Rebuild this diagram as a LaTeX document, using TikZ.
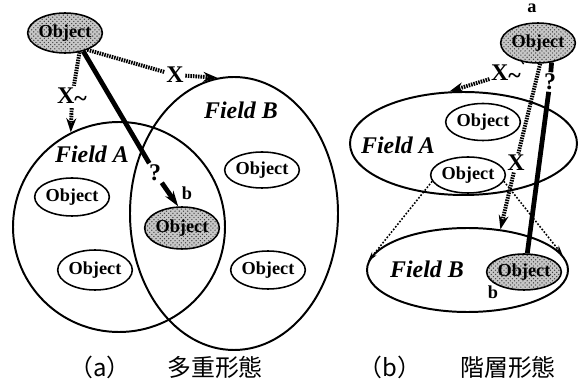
\documentclass[tikz,border=0pt]{standalone}
\usepackage{fontspec}
\setmainfont{Liberation Serif}
\newfontfamily\jpfont{Noto Sans CJK JP}
\usetikzlibrary{arrows.meta,shapes.geometric,patterns}

\begin{document}
\begin{tikzpicture}[
  obj/.style={ellipse, draw, fill=white, line width=1.1pt, minimum width=1.6cm, minimum height=1cm, inner sep=0pt, font=\fontsize{13}{13}\selectfont\bfseries},
  sel/.style={obj, preaction={fill=black!22}, pattern=crosshatch dots, pattern color=black!75},
  fld/.style={ellipse, draw, line width=1.4pt, inner sep=0pt},
  fname/.style={font=\fontsize{17}{17}\selectfont\bfseries\itshape},
  rel/.style={inner sep=1pt, font=\fontsize{17}{17}\selectfont\bfseries},
  lbl/.style={inner sep=1pt, font=\fontsize{13}{13}\selectfont\bfseries},
  hatch/.style={line width=2.8pt, dash pattern=on 1.1pt off 0.7pt, -{Stealth[length=10pt,width=7pt]}},
  fan/.style={line width=1.1pt, dash pattern=on 1.2pt off 1.2pt, -{Stealth[length=7pt,width=4pt]}},
  heavy/.style={line width=3.4pt},
  capt/.style={font=\jpfont\fontsize{17}{17}\selectfont}]
  \useasboundingbox (0,0) rectangle (14.45,9.55);

  % (a)
  \node [fld, minimum width=5.3cm, minimum height=5.25cm] (fa1) at (2.975cm, 3.875cm) {};
  \node [fld, minimum width=5.2cm, minimum height=6.825cm] (fb1) at (5.85cm, 4.2125cm) {};
  \node [sel] (a1) at (1.625cm, 8.725cm) {Object};
  \node [obj, minimum width=1.55cm, minimum height=0.95cm] (o1) at (1.8cm, 4.625cm) {Object};
  \node [obj] (o2) at (2.375cm, 2.8cm) {Object};
  \node [sel, minimum height=1.05cm] (b1) at (4.55cm, 3.85cm) {Object};
  \node [obj, minimum width=1.55cm, minimum height=0.9cm] (o3) at (6.55cm, 5.3cm) {Object};
  \node [obj, minimum width=1.55cm, minimum height=0.95cm] (o4) at (6.7cm, 2.8cm) {Object};
  \node [fname] (na1) at (2.3cm, 5.7cm) {Field A};
  \node [fname] (nb1) at (6.025cm, 6.8cm) {Field B};
  \node [rel] (x1) at (4.375cm, 7.675cm) {X};
  \node [rel] (t1) at (1.8cm, 7.125cm) {X\raisebox{-0.3ex}{\textasciitilde}};
  \node [rel] (q1) at (3.875cm, 5.225cm) {?};
  \node [lbl] (bl1) at (4.675cm, 4.725cm) {b};
  \draw [hatch] (a1.-37) -- (x1) -- (fb1.97.5);
  \draw [hatch] (a1.-53) -- (t1) -- (fa1.117.5);
  \draw [heavy, -{Stealth[length=11pt,width=7pt]}] (a1.-45) -- (q1) -- (b1.100);
  \node [capt] (ca) at (2.5cm, 0.375cm) {（a）};
  \node [capt] (cb) at (5.375cm, 0.375cm) {多重形態};

  % (b)
  \node [fld, minimum width=5.675cm, minimum height=2.575cm] (fa2) at (11.5875cm, 5.9625cm) {};
  \node [fld, minimum width=5.025cm, minimum height=2.1cm] (fb2) at (11.6875cm, 2.8cm) {};
  \node [sel] (a2) at (13.45cm, 8.475cm) {Object};
  \node [obj, minimum width=1.5cm, minimum height=0.925cm] (o5) at (12.075cm, 6.5cm) {Object};
  \node [obj, minimum width=1.6cm, minimum height=0.9cm] (m2) at (11.7cm, 5.175cm) {Object};
  \node [sel, minimum width=1.6cm, minimum height=0.9cm] (b2) at (13.1cm, 2.75cm) {Object};
  \node [fname] (na2) at (9.95cm, 5.925cm) {Field A};
  \node [fname] (nb2) at (10.675cm, 2.825cm) {Field B};
  \node [lbl] (al2) at (13.3cm, 9.35cm) {a};
  \node [lbl] (bl2) at (12.325cm, 2.25cm) {b};
  \node [rel] (t2) at (12.65cm, 7.7cm) {X\raisebox{-0.3ex}{\textasciitilde}};
  \node [rel] (x2) at (12.9cm, 5.475cm) {X};
  \node [rel] (q2) at (13.75cm, 7.5cm) {?};
  \draw [hatch] (a2.232) -- (t2) -- (fa2.105);
  \draw [hatch] (a2.-84) -- (x2) -- (fb2.51);
  \draw [heavy] (a2.-55) -- (q2) -- (b2.80);
  \draw [fan] (m2.190) -- (fb2.175);
  \draw [fan] (m2.-10) -- (fb2.9);
  \node [capt] (cc) at (9.75cm, 0.375cm) {（b）};
  \node [capt] (cd) at (12.7cm, 0.375cm) {階層形態};
\end{tikzpicture}
\end{document}
